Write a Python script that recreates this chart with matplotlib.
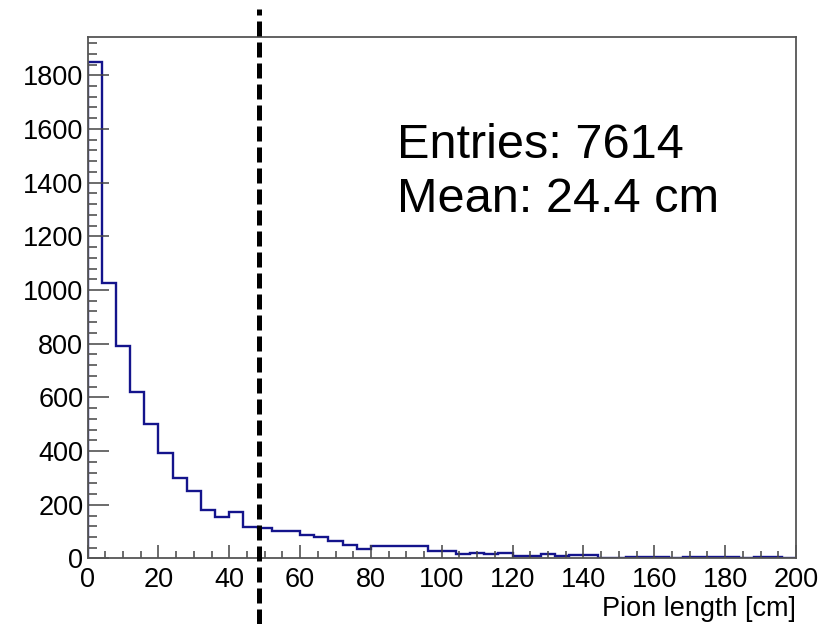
import matplotlib

matplotlib.use("Agg")
import matplotlib.pyplot as plt
import numpy as np

# bin contents, 4 cm bins from 0 to 200 cm
bin_edges = np.linspace(0, 200, 51)
counts = [
    1850, 1025, 790, 620, 502, 392, 301, 253, 181, 156,
    173, 119, 113, 104, 104, 88, 80, 65, 52, 36,
    45, 45, 45, 45, 27, 27, 15, 21, 15, 22,
    9, 9, 17, 9, 12, 12, 3, 3, 7, 4,
    4, 0, 4, 4, 4, 4, 1, 4, 4, 1,
]
cut_value = 48.5
entries = 7614
mean_length = 24.4

x_ticks = [0, 20, 40, 60, 80, 100, 120, 140, 160, 180, 200]
y_ticks = [0, 200, 400, 600, 800, 1000, 1200, 1400, 1600, 1800]

plt.rcParams["font.family"] = ["Liberation Sans", "DejaVu Sans"]

fig = plt.figure(figsize=(8.36, 6.24), dpi=100)
fig.patch.set_facecolor("white")
ax = fig.add_axes([0.1047, 0.105, 0.8475, 0.8357])

ax.stairs(counts, bin_edges, color="#14148c", linewidth=1.7, baseline=0)

ax.set_xlim(0, 200)
ax.set_ylim(0, 1.05 * max(counts))
ax.set_xticks(x_ticks)
ax.set_yticks(y_ticks)
ax.set_xticks(np.arange(0, 201, 5), minor=True)
ax.set_yticks(np.arange(0, 1940, 40), minor=True)

for side in ["top", "right", "bottom", "left"]:
    ax.spines[side].set_color("#555555")
    ax.spines[side].set_linewidth(1.3)

ax.tick_params(axis="both", which="both", direction="in", color="#444444", width=1.1,
               labelsize=19.5)
ax.tick_params(axis="x", which="major", length=9.5, pad=6)
ax.tick_params(axis="x", which="minor", length=5)
ax.tick_params(axis="y", which="major", length=15, pad=3)
ax.tick_params(axis="y", which="minor", length=6.5)

ax.set_xlabel("Pion length [cm]", loc="right", fontsize=19.5, labelpad=2)

# cut line, drawn over the whole picture height
ax.plot([cut_value, cut_value], [-0.126, 1.054], transform=ax.get_xaxis_transform(),
        color="black", linewidth=3.6, linestyle=(0, (3.0, 1.2)), clip_on=False,
        solid_capstyle="butt", dash_capstyle="butt", zorder=5)

fig.text(0.475, 0.747, f"Entries: {entries}", fontsize=35, va="baseline")
fig.text(0.475, 0.660, f"Mean: {mean_length} cm", fontsize=35, va="baseline")

fig.savefig("out.png", dpi=100)
